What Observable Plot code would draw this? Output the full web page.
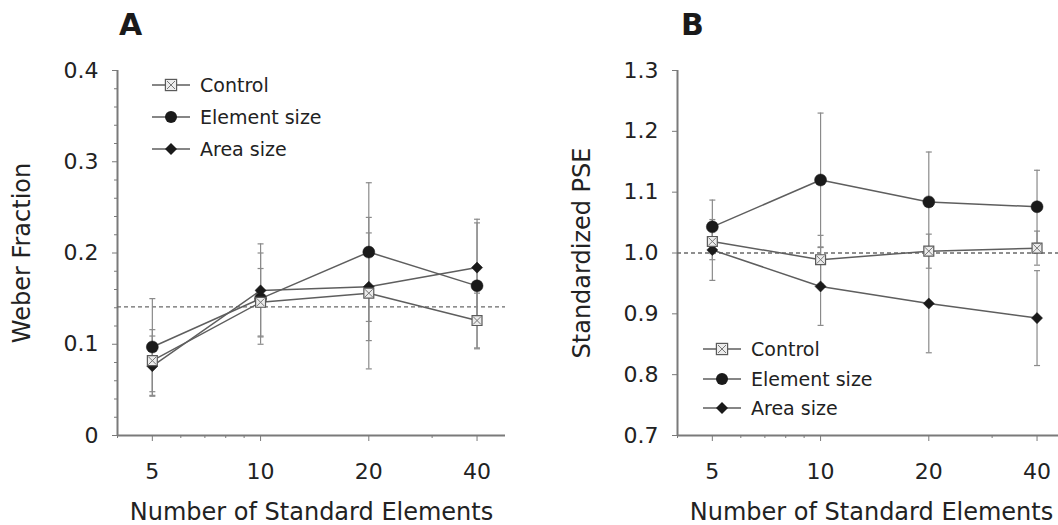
<!DOCTYPE html>
<html><head><meta charset="utf-8">
<script src="https://cdn.jsdelivr.net/npm/d3@7"></script>
<script src="https://cdn.jsdelivr.net/npm/@observablehq/plot@0.6"></script>
<style>
html,body{margin:0;padding:0;background:#fff;overflow:hidden;}
#wrap{position:relative;width:1058px;height:525px;overflow:hidden;font-family:"DejaVu Sans",Verdana,sans-serif;}
.panel{position:absolute;top:0;}
.ttl{position:absolute;font-weight:bold;font-size:30px;line-height:30px;color:#1a1a1a;font-family:"DejaVu Sans",Verdana,sans-serif;}
</style></head><body><div id="wrap"></div>
<script>
// ---------- data ----------
const nElements = [5, 10, 20, 40];
const minorX = [4, 6, 7, 8, 9, 30];
const seriesNames = ["Control", "Element size", "Area size"];

// Panel A: Weber fraction
const weberControl = [0.082, 0.146, 0.156, 0.126];
const weberControlErr = [0.034, 0.037, 0.083, 0.030];
const weberElement = [0.097, 0.150, 0.201, 0.164];
const weberElementErr = [0.053, 0.050, 0.076, 0.069];
const weberArea = [0.076, 0.159, 0.163, 0.184];
const weberAreaErr = [0.033, 0.051, 0.059, 0.053];
const weberReference = 0.141;
const weberTicks = [0, 0.1, 0.2, 0.3, 0.4];
const weberMinor = [0.02,0.04,0.06,0.08,0.12,0.14,0.16,0.18,0.22,0.24,0.26,0.28,0.32,0.34,0.36,0.38];

// Panel B: standardized PSE
const pseControl = [1.019, 0.989, 1.003, 1.008];
const pseControlErr = [0.030, 0.040, 0.028, 0.028];
const pseElement = [1.043, 1.120, 1.084, 1.076];
const pseElementErr = [0.044, 0.110, 0.082, 0.060];
const pseArea = [1.005, 0.945, 0.917, 0.893];
const pseAreaErr = [0.050, 0.064, 0.081, 0.078];
const pseReference = 1.0;
const pseTicks = [0.7, 0.8, 0.9, 1.0, 1.1, 1.2, 1.3];

// ---------- helpers ----------
function rows(values, errs, name) {
  return nElements.map((n, i) => ({n, v: values[i], lo: values[i] - errs[i], hi: values[i] + errs[i], series: name}));
}
const capSymbol = {draw(ctx, size) { const r = Math.sqrt(size / Math.PI); ctx.moveTo(-r, 0); ctx.lineTo(r, 0); }};
const AX = "#7a7a7a", LINE = "#5e5e5e", ERR = "#8a8a8a", INK = "#1a1a1a", TXT = "#222";

function panel({control, element, area, ref, yDomain, yTicks, yMinor, yFormat, yLabel, width, marginLeft, marginRight}) {
  const all = [...control, ...element, ...area];
  const marks = [
    Plot.ruleY([yDomain[0]], {stroke: AX, strokeWidth: 2}),
    Plot.ruleX([4], {stroke: AX, strokeWidth: 2}),
    Plot.axisX({ticks: nElements, tickSize: 6, tickPadding: 22, fontSize: 22, stroke: AX, fill: TXT, tickFormat: d => String(d), label: null}),
    Plot.axisX({ticks: minorX, tickSize: 3, stroke: AX, tickFormat: () => "", label: null}),
    Plot.axisX({ticks: [], label: "Number of Standard Elements", labelAnchor: "center", labelOffset: 84, labelArrow: "none", fontSize: 24, fill: TXT}),
    Plot.axisY({ticks: yTicks, tickSize: 5, tickPadding: 14, fontSize: 22, stroke: AX, fill: TXT, tickFormat: yFormat, label: null}),
    Plot.axisY({ticks: [], label: yLabel, labelAnchor: "center", labelOffset: 105, labelArrow: "none", fontSize: 24, fill: TXT}),
    Plot.ruleY([ref], {stroke: "#6a6a6a", strokeWidth: 1.4, strokeDasharray: "4,3"}),
    Plot.ruleX(all, {x: "n", y1: "lo", y2: "hi", stroke: ERR, strokeWidth: 1.2}),
    Plot.dot(all, {x: "n", y: "lo", symbol: capSymbol, r: 3, fill: "none", stroke: ERR, strokeWidth: 1.2}),
    Plot.dot(all, {x: "n", y: "hi", symbol: capSymbol, r: 3, fill: "none", stroke: ERR, strokeWidth: 1.2}),
    Plot.line(all, {x: "n", y: "v", z: "series", stroke: LINE, strokeWidth: 1.5}),
    Plot.dot(element, {x: "n", y: "v", r: 6, fill: INK, stroke: INK, strokeWidth: 0.5}),
    Plot.dot(area, {x: "n", y: "v", symbol: "diamond2", r: 5, fill: INK, stroke: INK, strokeWidth: 0.5}),
    Plot.dot(control, {x: "n", y: "v", symbol: "square", r: 5.6, fill: "#ececec", stroke: "#5a5a5a", strokeWidth: 1.2}),
    Plot.dot(control, {x: "n", y: "v", symbol: "times", r: 3.7, fill: "none", stroke: "#777", strokeWidth: 1})
  ];
  if (yMinor) marks.splice(6, 0, Plot.axisY({ticks: yMinor, tickSize: 3, stroke: AX, tickFormat: () => "", label: null}));
  return Plot.plot({
    width, height: 525,
    marginTop: 70, marginBottom: 90, marginLeft, marginRight,
    style: {fontFamily: '"DejaVu Sans", Verdana, sans-serif', background: "transparent", overflow: "visible"},
    x: {type: "log", domain: [4, 48]},
    y: {domain: yDomain},
    marks
  });
}

function legend(x0, rowsY) {
  const svg = d3.create("svg").attr("width", 200).attr("height", 110)
    .style("position", "absolute").style("left", x0 + "px").style("top", (rowsY[0] - 15) + "px").style("overflow", "visible");
  const g = svg.append("g").attr("transform", `translate(0,15)`);
  seriesNames.forEach((name, i) => {
    const y = rowsY[i] - rowsY[0];
    g.append("line").attr("x1", 0).attr("x2", 38).attr("y1", y).attr("y2", y).attr("stroke", LINE).attr("stroke-width", 1.5);
    const cx = 19;
    if (i === 0) {
      g.append("rect").attr("x", cx - 5.6).attr("y", y - 5.6).attr("width", 11.2).attr("height", 11.2).attr("fill", "#ececec").attr("stroke", "#5a5a5a").attr("stroke-width", 1.2);
      g.append("path").attr("d", `M${cx-4},${y-4}L${cx+4},${y+4}M${cx-4},${y+4}L${cx+4},${y-4}`).attr("stroke", "#777").attr("stroke-width", 1);
    } else if (i === 1) {
      g.append("circle").attr("cx", cx).attr("cy", y).attr("r", 6).attr("fill", INK);
    } else {
      g.append("path").attr("d", `M${cx},${y-6}L${cx+6},${y}L${cx},${y+6}L${cx-6},${y}Z`).attr("fill", INK);
    }
    g.append("text").attr("x", 48).attr("y", y).attr("dy", "0.35em").attr("fill", TXT)
      .style("font-family", '"DejaVu Sans", Verdana, sans-serif').style("font-size", "19px").text(name);
  });
  return svg.node();
}

const wrap = document.getElementById("wrap");
const fmtA = d => d === 0 ? "0" : d3.format(".1f")(d);
const fmtB = d3.format(".1f");

const plotA = panel({
  control: rows(weberControl, weberControlErr, "Control"),
  element: rows(weberElement, weberElementErr, "Element size"),
  area: rows(weberArea, weberAreaErr, "Area size"),
  ref: weberReference, yDomain: [0, 0.4], yTicks: weberTicks, yMinor: weberMinor, yFormat: fmtA,
  yLabel: "Weber Fraction", width: 529, marginLeft: 117, marginRight: 24
});
plotA.classList.add("panel"); plotA.style.left = "0px";
wrap.appendChild(plotA);

const plotB = panel({
  control: rows(pseControl, pseControlErr, "Control"),
  element: rows(pseElement, pseElementErr, "Element size"),
  area: rows(pseArea, pseAreaErr, "Area size"),
  ref: pseReference, yDomain: [0.7, 1.3], yTicks: pseTicks, yMinor: null, yFormat: fmtB,
  yLabel: "Standardized PSE", width: 536, marginLeft: 148, marginRight: 0
});
plotB.classList.add("panel"); plotB.style.left = "529px";
wrap.appendChild(plotB);

wrap.appendChild(legend(152, [85, 117, 149]));
wrap.appendChild(legend(703, [349, 379, 408]));

for (const [t, x] of [["A", 119], ["B", 681]]) {
  const d = document.createElement("div");
  d.className = "ttl"; d.textContent = t;
  d.style.left = x + "px"; d.style.top = "10px";
  wrap.appendChild(d);
}
</script></body></html>
